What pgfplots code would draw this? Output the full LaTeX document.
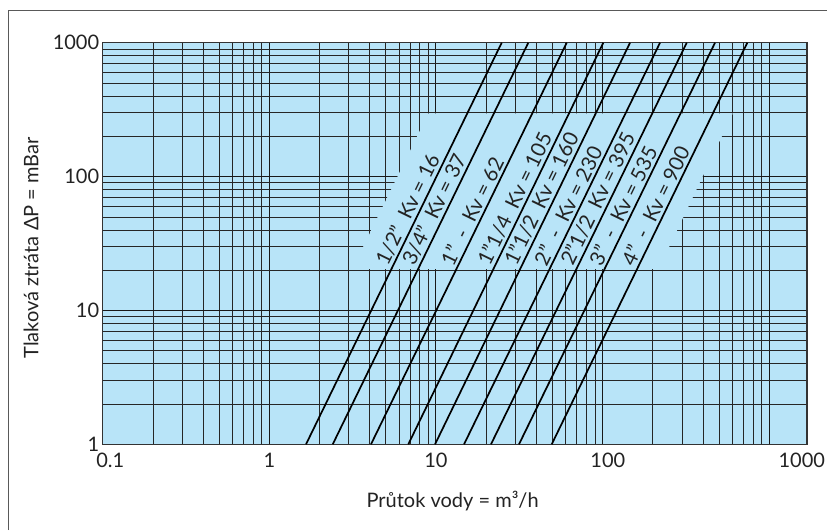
\documentclass[border=0pt]{standalone}
\usepackage{pgfplots}
\pgfplotsset{compat=1.18}
\usepackage{fontspec}
\setmainfont{Lato}
\definecolor{bgblue}{RGB}{184,228,248}
\definecolor{txt}{RGB}{35,35,35}
\tikzset{lbl/.style={font=\fontsize{20.5}{22}\selectfont, text=txt, inner sep=2.5pt, sloped, anchor=south west, pos=0.43}}
\begin{document}
\begin{tikzpicture}
\useasboundingbox (0,0) rectangle (827pt,530pt);
\draw[black!65, line width=0.8pt] (8pt,0) -- (8pt,520pt) -- (827pt,520pt);
\begin{axis}[
  at={(102.7pt,85.7pt)}, anchor=south west,
  scale only axis, width=704pt, height=401.6pt,
  xmode=log, ymode=log,
  xmin=0.1, xmax=1681, ymin=1, ymax=1000,
  axis background/.style={fill=bgblue},
  xtick={0.1,1,10,100,1000}, xticklabels={},
  minor xtick={0.2,0.3,0.4,0.5,0.6,0.7,0.8,0.9,2,3,4,5,6,7,8,9,20,30,40,50,60,70,80,90,200,300,400,500,600,700,800,900},
  ytick={1,10,100,1000}, yticklabels={1,10,100,1000},
  minor ytick={2,3,4,5,6,7,8,9,20,30,40,50,60,70,80,90,200,300,400,500,600,700,800,900},
  extra x ticks={0.111,1,10,107.6,1570},
  extra x tick labels={0.1,1,10,100,1000},
  extra x tick style={grid=none, major tick length=0pt},
  major tick length=0pt, minor tick length=0pt,
  grid=both,
  major grid style={line width=0.9pt, draw=black!90},
  minor grid style={line width=0.6pt, draw=black!85},
  axis line style={line width=1.6pt, draw=black!80},
  tick label style={font=\fontsize{20}{24}\selectfont, text=txt},
  xticklabel style={yshift=-5pt},
  xlabel={Průtok vody = m³/h},
  ylabel={Tlaková ztráta ΔP = mBar},
  label style={font=\fontsize{20}{24}\selectfont, text=txt},
  xlabel style={at={(axis description cs:0.497,-0.1569)}, anchor=base},
  ylabel style={at={(axis description cs:-0.0915,0.489)}, anchor=base},
]
\fill[bgblue] (axis cs:3.15,20.4) -- (axis cs:217,20.4) -- (axis cs:605,296) -- (axis cs:9,296) -- cycle;
\addplot[line width=1.7pt, black] coordinates {(1.661,1) (24.83,1000)} node[lbl]{1/2"\ \ Kv = 16};
\addplot[line width=1.7pt, black] coordinates {(2.403,1) (35.86,1000)} node[lbl]{3/4"\ \ Kv = 37};
\addplot[line width=1.7pt, black] coordinates {(4.077,1) (60.97,1000)} node[lbl]{1"\ \ -\ \ Kv = 62};
\addplot[line width=1.7pt, black] coordinates {(6.83,1) (101.1,1000)} node[lbl]{1"1/4\ \ Kv = 105};
\addplot[line width=1.7pt, black] coordinates {(9.88,1) (146.3,1000)} node[lbl]{1"1/2\ \ Kv = 160};
\addplot[line width=1.7pt, black] coordinates {(14.75,1) (221.4,1000)} node[lbl]{2"\ \ -\ \ Kv = 230};
\addplot[line width=1.7pt, black] coordinates {(21.41,1) (320.2,1000)} node[lbl]{2"1/2\ \ Kv = 395};
\addplot[line width=1.7pt, black] coordinates {(31.53,1) (473.5,1000)} node[lbl]{3"\ \ -\ \ Kv = 535};
\addplot[line width=1.7pt, black] coordinates {(49.55,1) (739.8,1000)} node[lbl]{4"\ \ -\ \ Kv = 900};
\end{axis}
\end{tikzpicture}
\end{document}
